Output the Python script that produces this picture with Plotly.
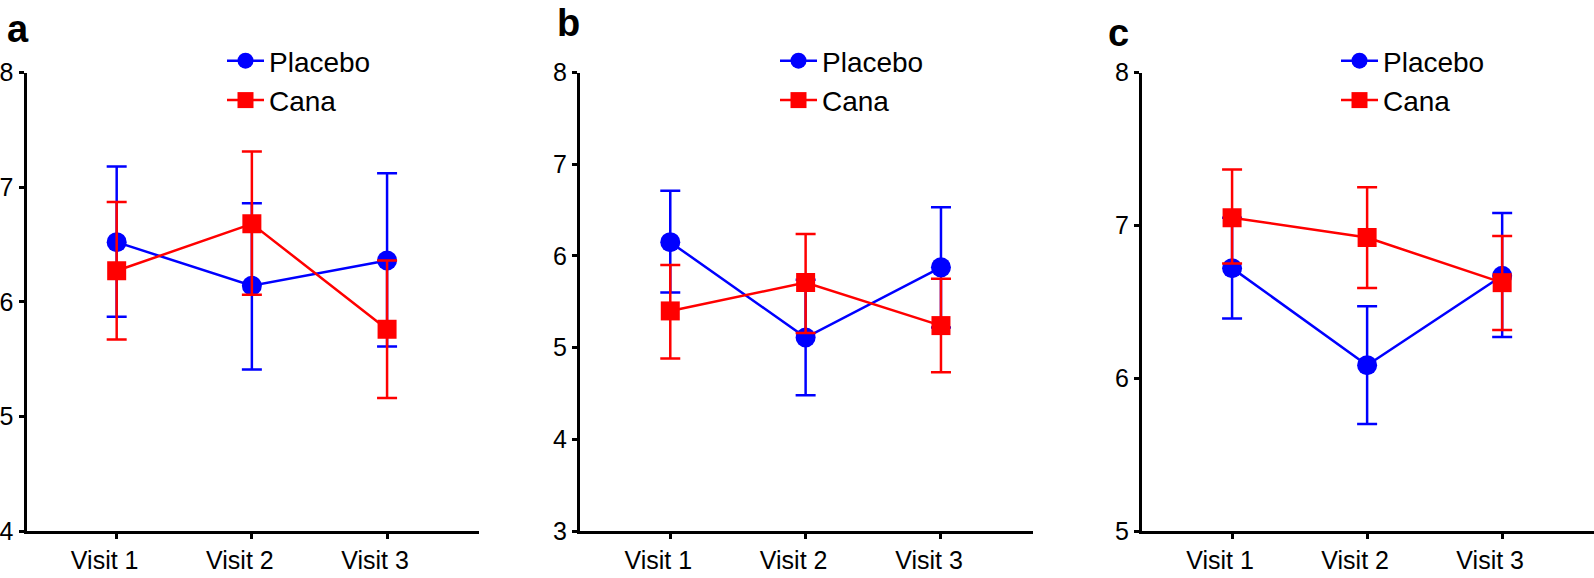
import plotly.graph_objects as go

visits = ["Visit 1", "Visit 2", "Visit 3"]

# Panel a
a_placebo = [6.52, 6.14, 6.36]
a_placebo_hi = [7.18, 6.86, 7.12]
a_placebo_lo = [5.87, 5.41, 5.61]
a_cana = [6.27, 6.68, 5.76]
a_cana_hi = [6.87, 7.31, 6.36]
a_cana_lo = [5.67, 6.06, 5.16]

# Panel b
b_placebo = [6.15, 5.11, 5.875]
b_placebo_hi = [6.71, 5.74, 6.53]
b_placebo_lo = [5.60, 4.48, 5.22]
b_cana = [5.40, 5.71, 5.24]
b_cana_hi = [5.90, 6.24, 5.75]
b_cana_lo = [4.88, 5.16, 4.73]

# Panel c
c_placebo = [6.72, 6.085, 6.67]
c_placebo_hi = [7.05, 6.47, 7.08]
c_placebo_lo = [6.39, 5.70, 6.27]
c_cana = [7.05, 6.92, 6.625]
c_cana_hi = [7.365, 7.25, 6.93]
c_cana_lo = [6.75, 6.59, 6.315]

y_ranges = [[4, 8], [3, 8], [5, 8]]
panel_letters = ["a", "b", "c"]

BLUE = "#0000FF"
RED = "#FF0000"
FONT = "Liberation Sans, Arial, sans-serif"
W, H = 1594, 578

panels = [
    (a_placebo, a_placebo_hi, a_placebo_lo, a_cana, a_cana_hi, a_cana_lo),
    (b_placebo, b_placebo_hi, b_placebo_lo, b_cana, b_cana_hi, b_cana_lo),
    (c_placebo, c_placebo_hi, c_placebo_lo, c_cana, c_cana_hi, c_cana_lo),
]

x_doms = [[26.5 / W, 479 / W], [580 / W, 1033 / W], [1142 / W, 1.0]]
y_dom = [1 - 531 / H, 1 - 72.5 / H]
legend_x = [222, 775, 1336]
letter_x = [5, 555, 1106]
letter_top = [6, 0, 10]

fig = go.Figure()

for i, (pm, ph, pl, cm, ch, cl) in enumerate(panels):
    sfx = "" if i == 0 else str(i + 1)
    xa, ya = "x" + sfx, "y" + sfx
    leg = "legend" + sfx
    for name, m, hi, lo, col, sym, msize in [
        ("Placebo", pm, ph, pl, BLUE, "circle", 20),
        ("Cana", cm, ch, cl, RED, "square", 19),
    ]:
        fig.add_trace(go.Scatter(
            x=visits, y=m, name=name, mode="lines+markers",
            xaxis=xa, yaxis=ya, legend=leg,
            line=dict(color=col, width=2.5),
            marker=dict(color=col, symbol=sym, size=msize, line=dict(width=0)),
            error_y=dict(type="data", symmetric=False,
                         array=[h - v for h, v in zip(hi, m)],
                         arrayminus=[v - l for v, l in zip(m, lo)],
                         color=col, thickness=2.5, width=10),
        ))
    axis_common = dict(showline=True, linecolor="black", linewidth=3,
                       ticks="outside", tickcolor="black", tickwidth=3, ticklen=5,
                       showgrid=False, zeroline=False, automargin=False,
                       tickfont=dict(family=FONT, size=25, color="black"))
    fig.layout["xaxis" + sfx] = dict(
        domain=x_doms[i], anchor=ya, type="category",
        categoryorder="array", categoryarray=visits,
        range=[-0.667, 2.68], ticklabelshift=-12, **axis_common)
    fig.layout["yaxis" + sfx] = dict(
        domain=y_dom, anchor=xa, range=y_ranges[i], dtick=1,
        **axis_common)
    fig.layout[leg] = dict(
        x=legend_x[i] / W, xanchor="left", y=1 - 36 / H, yanchor="top",
        bgcolor="rgba(0,0,0,0)", font=dict(family=FONT, size=28, color="black"),
        tracegroupgap=0, itemsizing="trace", itemwidth=37)
    fig.add_annotation(
        text="<b>%s</b>" % panel_letters[i], xref="paper", yref="paper",
        x=letter_x[i] / W, y=1 - letter_top[i] / H, xanchor="left", yanchor="top",
        showarrow=False, font=dict(family=FONT, size=38, color="black"))

fig.update_layout(
    width=W, height=H,
    margin=dict(l=0, r=0, t=0, b=0, autoexpand=False),
    paper_bgcolor="white", plot_bgcolor="white",
    showlegend=True,
    font=dict(family=FONT, color="black"),
)

fig.write_html(
    "out.html",
    config={"displayModeBar": False},
    post_script="document.body.style.margin='0';document.body.style.overflow='hidden';",
)
